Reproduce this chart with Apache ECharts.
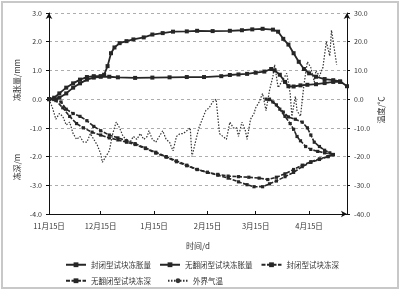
<!DOCTYPE html>
<html><head><meta charset="utf-8">
<script src="https://cdn.jsdelivr.net/npm/echarts@6/dist/echarts.min.js"></script>
<style>html,body{margin:0;padding:0;background:#fff}#c{width:407px;height:297px}</style>
</head><body><div id="c"></div>
<script>
// X axis: days after 11月15日
const xTickDays = [0, 30, 61, 92, 120, 151];
const xTickLabels = ['11月15日', '12月15日', '1月15日', '2月15日', '3月15日', '4月15日'];

// 封闭型试块冻胀量 (mm)
const closedHeaveDays = [0,3,6,10,14,18,22,26,30,32,34,36,38,41,45,49,55,60,66,72,80,86,95,105,112,118,124,130,133,136,139,142,145,148,151,155,160,165,169,173];
const closedHeaveVals = [0,0.05,0.2,0.4,0.55,0.68,0.77,0.8,0.8,0.85,1.15,1.6,1.8,1.95,2.02,2.08,2.15,2.25,2.3,2.35,2.36,2.38,2.37,2.38,2.4,2.43,2.45,2.42,2.35,2.1,1.9,1.6,1.3,1.05,0.9,0.78,0.7,0.66,0.62,0.45];

// 无翻闭型试块冻胀量 (mm)
const openHeaveDays = [0,3,6,10,14,18,22,26,30,35,40,50,60,70,80,90,100,105,110,115,120,125,129,131,134,137,139,142,146,150,155,160,165,169];
const openHeaveVals = [0,0,0.05,0.2,0.4,0.55,0.68,0.75,0.78,0.78,0.76,0.74,0.75,0.76,0.77,0.77,0.8,0.84,0.86,0.88,0.92,0.96,1.05,1.0,0.85,0.6,0.45,0.44,0.48,0.5,0.52,0.56,0.6,0.6];

// 封闭型试块冻深 (m): freezing front, thaw front
const closedDepthDays = [0,4,7,10,14,18,22,26,30,35,40,45,50,56,62,68,74,80,86,92,98,104,110,115,119,124,128,132,137,142,147,152,157,162,165];
const closedDepthVals = [0,0,-0.1,-0.35,-0.5,-0.6,-0.75,-0.95,-1.1,-1.25,-1.35,-1.45,-1.55,-1.7,-1.85,-2.0,-2.15,-2.3,-2.45,-2.55,-2.65,-2.75,-2.88,-2.98,-3.05,-3.05,-2.95,-2.85,-2.7,-2.55,-2.35,-2.2,-2.1,-2.0,-1.93];
const closedThawDays = [126,130,134,137,140,142,144,146,149,152,156,160,165];
const closedThawVals = [0,-0.1,-0.35,-0.6,-0.85,-1.05,-1.3,-1.45,-1.65,-1.75,-1.82,-1.87,-1.93];

// 无翻闭型试块冻深 (m)
const openDepthDays = [0,4,8,12,16,20,25,30,35,40,45,50,56,62,68,74,80,86,92,98,104,110,116,122,127,132,137,142,147,152,157,162,165];
const openDepthVals = [0,-0.05,-0.3,-0.6,-0.85,-1.0,-1.15,-1.25,-1.35,-1.42,-1.5,-1.58,-1.72,-1.88,-2.02,-2.18,-2.32,-2.45,-2.55,-2.62,-2.68,-2.7,-2.72,-2.75,-2.8,-2.72,-2.6,-2.45,-2.3,-2.18,-2.08,-2.0,-1.93];
const openThawDays = [128,132,136,139,143,147,150,152,154,157,160,163,165];
const openThawVals = [0,-0.2,-0.45,-0.62,-0.7,-0.8,-1.0,-1.25,-1.5,-1.65,-1.78,-1.87,-1.93];

// 外界气温 (℃)
const tempDays = [0,2,4,6,8,10,12,14,16,18,20,22,24,26,28,30,31,33,35,37,39,41,43,45,47,49,51,53,55,57,58,60,62,64,66,68,70,72,74,76,78,80,82,83,85,87,89,91,93,95,97,99,101,103,105,107,109,110,112,114,115,117,119,120,122,124,126,128,130,131,133,135,137,138,140,141,143,144,146,148,150,152,154,155,157,159,161,163,164,166,167];
const tempVals = [0,-3,-7,-5,-6,-9,-8,-12,-14,-13,-15,-15,-12,-14,-16,-19,-22,-20,-18,-12,-8,-10,-13,-14,-15,-13,-14,-12,-14,-13,-11,-14,-15,-13,-11,-14,-15,-18,-13,-12,-12,-11,-10,-20,-15,-10,-7,-4,-3,-1,0,-12,-13,-14,-8,-10,-10,-13,-8,-11,-14,-7,-5,-3,-1,2,-4,3,8,12,4,6,8,9,2,-6,1,-4,-6,5,13,11,6,10,8,11,20,15,24,16,12];

const zip = (d, v) => d.map((x, i) => [x, v[i]]);
const FONT = '"Noto Sans CJK SC", "Noto Sans", sans-serif';
const INK = '#262626';

const heaveStyle = (name, days, vals) => ({
  name, type: 'line', data: zip(days, vals), yAxisIndex: 0,
  symbol: 'rect', symbolSize: 4, showSymbol: true,
  lineStyle: { color: INK, width: 1.8 }, itemStyle: { color: INK },
  animation: false
});
const depthStyle = (name, days, vals) => ({
  name, type: 'line', data: zip(days, vals), yAxisIndex: 0,
  symbol: 'rect', symbolSize: 3.2, showSymbol: true,
  lineStyle: { color: INK, width: 1.6, type: [4, 1.5] }, itemStyle: { color: INK },
  animation: false
});

const chart = echarts.init(document.getElementById('c'), null, { renderer: 'canvas' });
chart.setOption({
  backgroundColor: '#fff',
  textStyle: { fontFamily: FONT },
  grid: { left: 49, right: 60, top: 13, bottom: 83 },
  xAxis: {
    type: 'value', min: 0, max: 173,
    name: '时间/d', nameLocation: 'middle', nameGap: 28,
    nameTextStyle: { fontSize: 8, color: '#333', fontFamily: FONT },
    axisLine: { onZero: false, lineStyle: { color: '#111', width: 1 }, symbol: ['none', 'arrow'], symbolSize: [5, 6] },
    axisTick: { customValues: xTickDays, inside: true, length: 3, lineStyle: { color: '#111' } },
    axisLabel: { customValues: xTickDays, fontSize: 7.5, color: '#333', margin: 8,
      formatter: v => xTickLabels[xTickDays.indexOf(v)] || '' },
    splitLine: { show: false }
  },
  yAxis: [
    {
      type: 'value', min: -4, max: 3, interval: 1, position: 'left',
      axisLine: { show: true, onZero: false, lineStyle: { color: '#111' }, symbol: ['none', 'arrow'], symbolSize: [5, 6] },
      axisTick: { show: true, length: 3, lineStyle: { color: '#111' } },
      axisLabel: { fontSize: 7, color: '#333', margin: 7, formatter: v => v.toFixed(1) },
      splitLine: { show: true, lineStyle: { color: '#999', type: [3, 3], width: 0.8 } }
    },
    {
      type: 'value', min: -40, max: 30, interval: 10, position: 'right',
      axisLine: { show: true, onZero: false, lineStyle: { color: '#111' }, symbol: ['none', 'arrow'], symbolSize: [5, 6] },
      axisTick: { show: true, length: 3, lineStyle: { color: '#111' } },
      axisLabel: { fontSize: 7, color: '#333', margin: 7, formatter: v => v.toFixed(1) },
      splitLine: { show: false }
    }
  ],
  legend: [
    { data: ['封闭型试块冻胀量', '无翻闭型试块冻胀量', '封闭型试块冻深'], left: 60, top: 256,
      itemWidth: 20, itemHeight: 6, itemGap: 8, textStyle: { fontSize: 7.5, color: '#333', fontFamily: FONT } },
    { data: ['无翻闭型试块冻深', '外界气温'], left: 60, top: 272,
      itemWidth: 20, itemHeight: 6, itemGap: 16, textStyle: { fontSize: 7.5, color: '#333', fontFamily: FONT } }
  ],
  graphic: [
    { type: 'rect', shape: { x: 2, y: 2, width: 396, height: 286 }, style: { fill: 'none', stroke: '#c8c8c8', lineWidth: 2 }, silent: true },
    { type: 'text', x: 17, y: 80, rotation: Math.PI / 2, style: { text: '冻胀量/mm', fontSize: 8, fill: '#333', fontFamily: FONT, align: 'center', verticalAlign: 'middle' } },
    { type: 'text', x: 17, y: 167, rotation: Math.PI / 2, style: { text: '冻深/m', fontSize: 8, fill: '#333', fontFamily: FONT, align: 'center', verticalAlign: 'middle' } },
    { type: 'text', x: 381, y: 110, rotation: Math.PI / 2, style: { text: '温度/℃', fontSize: 8, fill: '#333', fontFamily: FONT, align: 'center', verticalAlign: 'middle' } }
  ],
  series: [
    heaveStyle('封闭型试块冻胀量', closedHeaveDays, closedHeaveVals),
    heaveStyle('无翻闭型试块冻胀量', openHeaveDays, openHeaveVals),
    depthStyle('封闭型试块冻深', closedDepthDays, closedDepthVals),
    depthStyle('无翻闭型试块冻深', openDepthDays, openDepthVals),
    depthStyle('封闭型试块冻深', closedThawDays, closedThawVals),
    depthStyle('无翻闭型试块冻深', openThawDays, openThawVals),
    { name: '外界气温', type: 'line', yAxisIndex: 1, data: zip(tempDays, tempVals), showSymbol: false, symbol: 'none',
      lineStyle: { color: '#333', width: 1.2, type: [1.5, 1.5] }, itemStyle: { color: '#333' }, animation: false }
  ]
});
</script></body></html>
